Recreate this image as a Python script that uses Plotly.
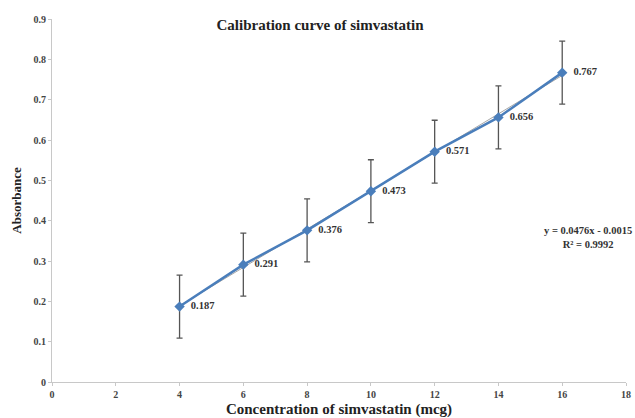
import plotly.graph_objects as go

conc = [4, 6, 8, 10, 12, 14, 16]
absorb = [0.187, 0.291, 0.376, 0.473, 0.571, 0.656, 0.767]
err = [0.078, 0.078, 0.078, 0.078, 0.078, 0.078, 0.078]
labels = ["0.187", "0.291", "0.376", "0.473", "0.571", "0.656", "0.767"]
slope, intercept = 0.0476, -0.0015
xticks = [0, 2, 4, 6, 8, 10, 12, 14, 16, 18]
yticks = [0, 0.1, 0.2, 0.3, 0.4, 0.5, 0.6, 0.7, 0.8, 0.9]

serif = "Liberation Serif, Times New Roman, serif"
fig = go.Figure()
trend_x = [conc[0], conc[-1]]
fig.add_trace(go.Scatter(x=trend_x, y=[slope * v + intercept for v in trend_x], mode="lines",
                         line=dict(color="#a6a6a6", width=1), showlegend=False, hoverinfo="skip"))
fig.add_trace(go.Scatter(
    x=conc, y=absorb, mode="lines+markers+text",
    line=dict(color="#4a7ebb", width=2.5),
    marker=dict(symbol="diamond", size=8, color="#4a7ebb"),
    error_y=dict(type="data", array=err, color="#555555", thickness=1.3, width=3),
    text=["  <b>" + t + "</b>" for t in labels], textposition="middle right",
    textfont=dict(family=serif, size=10.5, color="#333333"),
    showlegend=False))

fig.update_layout(
    width=635, height=418,
    margin=dict(l=52, r=9, t=19, b=36),
    plot_bgcolor="white", paper_bgcolor="white",
    title=dict(text="<b>Calibration curve of simvastatin</b>", x=0.504, xanchor="center",
               y=0.94, yanchor="middle", font=dict(family=serif, size=15, color="#222222")),
    xaxis=dict(range=[0, 18], tickvals=xticks, ticktext=[f"<b>{v}</b>" for v in xticks],
               automargin=False,
               showgrid=False, zeroline=False, showline=True, linecolor="#c8c8c8", linewidth=1,
               ticks="outside", ticklen=3, tickcolor="#c8c8c8",
               tickfont=dict(family=serif, size=10, color="#444444"),
               title=dict(text="<b>Concentration of simvastatin (mcg)</b>", standoff=5,
                          font=dict(family=serif, size=15, color="#222222"))),
    yaxis=dict(range=[0, 0.9], tickvals=yticks, ticktext=[f"<b>{v:g}</b>" for v in yticks],
               automargin=False,
               showgrid=False, zeroline=False, showline=True, linecolor="#c8c8c8", linewidth=1,
               ticks="outside", ticklen=3, tickcolor="#c8c8c8",
               tickfont=dict(family=serif, size=10, color="#444444"),
               title=dict(text="<b>Absorbance</b>", standoff=8,
                          font=dict(family=serif, size=13, color="#222222"))),
    annotations=[dict(x=0.933, y=0.397, xref="paper", yref="paper", xanchor="center", yanchor="middle",
                      align="center", showarrow=False,
                      text="<b>y = 0.0476x - 0.0015<br>R² = 0.9992</b>",
                      font=dict(family=serif, size=10.5, color="#333333"))],
)
fig.write_html("out.html")
